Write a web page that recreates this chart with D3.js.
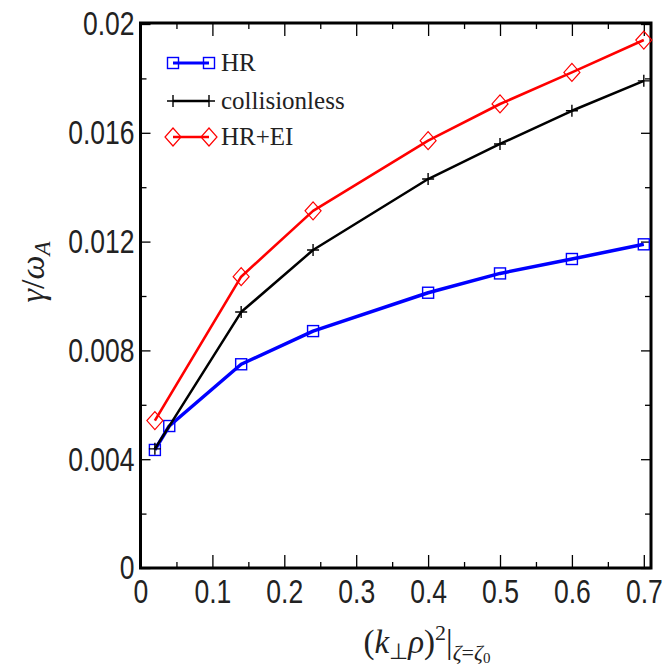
<!DOCTYPE html>
<html lang="en">
<head>
  <meta charset="UTF-8">
  <title>Growth rate vs (k rho)^2</title>
  <style>
    body { margin: 0; background: #fff; }
    svg { display: block; }
    .tick-label { font-family: "Liberation Sans", Arial, sans-serif; font-size: 34px; fill: #222; }
    .legend text { font-family: "Liberation Serif", "Times New Roman", serif; font-size: 25px; fill: #222; }
    .math { font-family: "Liberation Serif", "Times New Roman", serif; fill: #222; }
  </style>
  <script src="https://d3js.org/d3.v7.min.js"></script>
</head>
<body>
<div id="chart"></div>
<script>
  // values
  const xHR    = [0.02, 0.04, 0.14, 0.24, 0.4, 0.5, 0.6, 0.7];
  const yHR    = [0.00434, 0.00522, 0.00749, 0.00871, 0.01012, 0.01083, 0.01136, 0.0119];
  const xOther = [0.02, 0.14, 0.24, 0.4, 0.5, 0.6, 0.7];
  const yColl  = [0.00438, 0.00941, 0.01169, 0.0143, 0.01559, 0.01681, 0.01791];
  const yHREI  = [0.00542, 0.01071, 0.01313, 0.01571, 0.01706, 0.01822, 0.01941];

  const xMajor = [0, 0.1, 0.2, 0.3, 0.4, 0.5, 0.6, 0.7];
  const xMinor = [0.05, 0.15, 0.25, 0.35, 0.45, 0.55, 0.65];
  const yMajor = [0, 0.004, 0.008, 0.012, 0.016, 0.02];
  const yMinor = [0.002, 0.006, 0.01, 0.014, 0.018];
  const xLabels = ['0', '0.1', '0.2', '0.3', '0.4', '0.5', '0.6', '0.7'];
  const yLabels = ['0', '0.004', '0.008', '0.012', '0.016', '0.02'];

  const series = [
    { name: 'HR', xs: xHR, ys: yHR, color: '#0000ff', width: 3.5, marker: 'square' },
    { name: 'collisionless', xs: xOther, ys: yColl, color: '#000000', width: 2.5, marker: 'plus' },
    { name: 'HR+EI', xs: xOther, ys: yHREI, color: '#ff0000', width: 2.6, marker: 'diamond' }
  ];

  const W = 665, H = 672;
  const L = 140.5, R = 651, T = 24, B = 568;
  const sx = 0.78; // condensed look of tick labels

  const svg = d3.select('#chart').append('svg').attr('width', W).attr('height', H);

  const x = d3.scaleLinear().domain([0, 0.71]).range([L, R]);
  const y = d3.scaleLinear().domain([0, 0.02]).range([B, T]);

  // axes: ticks point inward on all four sides
  const fmtX = d => xLabels[xMajor.indexOf(d)];
  const fmtY = d => yLabels[yMajor.indexOf(d)];

  const gx = svg.append('g').attr('transform', `translate(0,${B})`)
    .call(d3.axisBottom(x).tickValues(xMajor).tickSize(-13).tickPadding(11).tickFormat(fmtX));
  svg.append('g').attr('transform', `translate(0,${B})`)
    .call(d3.axisBottom(x).tickValues(xMinor).tickSize(-6).tickFormat(''));
  svg.append('g').attr('transform', `translate(0,${T - 1})`)
    .call(d3.axisTop(x).tickValues(xMajor).tickSize(-13).tickFormat(''));
  svg.append('g').attr('transform', `translate(0,${T - 1})`)
    .call(d3.axisTop(x).tickValues(xMinor).tickSize(-6).tickFormat(''));

  const gy = svg.append('g').attr('transform', `translate(${L},0)`)
    .call(d3.axisLeft(y).tickValues(yMajor).tickSize(-10).tickPadding(7).tickFormat(fmtY));
  svg.append('g').attr('transform', `translate(${L},0)`)
    .call(d3.axisLeft(y).tickValues(yMinor).tickSize(-6).tickFormat(''));
  svg.append('g').attr('transform', `translate(${R},0)`)
    .call(d3.axisRight(y).tickValues(yMajor).tickSize(-10).tickFormat(''));
  svg.append('g').attr('transform', `translate(${R},0)`)
    .call(d3.axisRight(y).tickValues(yMinor).tickSize(-6).tickFormat(''));

  svg.selectAll('.domain').remove();
  svg.selectAll('.tick line').attr('stroke', '#000').attr('stroke-width', 1.3);

  gx.selectAll('text').attr('class', 'tick-label')
    .attr('transform', `scale(${sx},1)`);
  gy.selectAll('text').attr('class', 'tick-label')
    .attr('x', -6 / sx)
    .attr('transform', `scale(${sx},1)`);

  // frame
  svg.append('rect')
    .attr('x', L).attr('y', T - 1)
    .attr('width', R - L).attr('height', B - T + 1)
    .attr('fill', 'none').attr('stroke', '#000').attr('stroke-width', 3);

  function drawMarker(g, type, color) {
    if (type === 'square') {
      g.append('rect').attr('x', -5.5).attr('y', -5.5).attr('width', 11).attr('height', 11)
        .attr('fill', 'none').attr('stroke', color).attr('stroke-width', 1.4);
    } else if (type === 'plus') {
      g.append('path').attr('d', 'M-6,0H6M0,-6V6')
        .attr('stroke', color).attr('stroke-width', 1.4);
    } else {
      g.append('path').attr('d', 'M0,-9L8,0L0,9L-8,0Z')
        .attr('fill', 'none').attr('stroke', color).attr('stroke-width', 1.2);
    }
  }

  const line = d3.line().x(d => x(d[0])).y(d => y(d[1]));

  series.forEach(s => {
    const pts = s.xs.map((v, i) => [v, s.ys[i]]);
    svg.append('path').datum(pts)
      .attr('d', line)
      .attr('fill', 'none').attr('stroke', s.color)
      .attr('stroke-width', s.width).attr('stroke-linejoin', 'round');
    svg.append('g').selectAll('g').data(pts).join('g')
      .attr('transform', d => `translate(${x(d[0])},${y(d[1])})`)
      .each(function () { drawMarker(d3.select(this), s.marker, s.color); });
  });

  // legend
  const legend = svg.append('g').attr('class', 'legend');
  const legY = [63, 101, 137];
  series.forEach((s, i) => {
    const g = legend.append('g').attr('transform', `translate(0,${legY[i]})`);
    g.append('line').attr('x1', 173).attr('x2', 209).attr('y1', 0).attr('y2', 0)
      .attr('stroke', s.color).attr('stroke-width', s.width === 3.5 ? 3 : 2.5);
    [173, 209].forEach(px => {
      drawMarker(g.append('g').attr('transform', `translate(${px},0)`), s.marker, s.color);
    });
    g.append('text').attr('x', 221).attr('y', 8).text(s.name);
  });

  // y axis title: gamma / omega_A
  const yt = svg.append('text').attr('class', 'math')
    .attr('transform', 'translate(44,272) rotate(-90)')
    .attr('text-anchor', 'middle').style('font-size', '34px');
  yt.append('tspan').style('font-style', 'italic').text('γ');
  yt.append('tspan').text('/');
  yt.append('tspan').style('font-style', 'italic').text('ω');
  yt.append('tspan').style('font-style', 'italic').style('font-size', '23px').attr('dy', 6).text('A');

  // x axis title: (k_perp rho)^2 |_{zeta = zeta_0}
  const xt = svg.append('text').attr('class', 'math')
    .attr('x', 427).attr('y', 653)
    .attr('text-anchor', 'middle').style('font-size', '33px');
  xt.append('tspan').text('(');
  xt.append('tspan').style('font-style', 'italic').text('k');
  xt.append('tspan').style('font-size', '22px').attr('dy', 6).text('⊥');
  xt.append('tspan').style('font-style', 'italic').attr('dy', -6).text('ρ');
  xt.append('tspan').text(')');
  xt.append('tspan').style('font-size', '22px').attr('dy', -13).text('2');
  xt.append('tspan').attr('dy', 13).text('|');
  xt.append('tspan').style('font-size', '22px').style('font-style', 'italic').attr('dy', 7).text('ζ');
  xt.append('tspan').style('font-size', '22px').text('=');
  xt.append('tspan').style('font-size', '22px').style('font-style', 'italic').text('ζ');
  xt.append('tspan').style('font-size', '15px').attr('dy', 3).text('0');
</script>
</body>
</html>
